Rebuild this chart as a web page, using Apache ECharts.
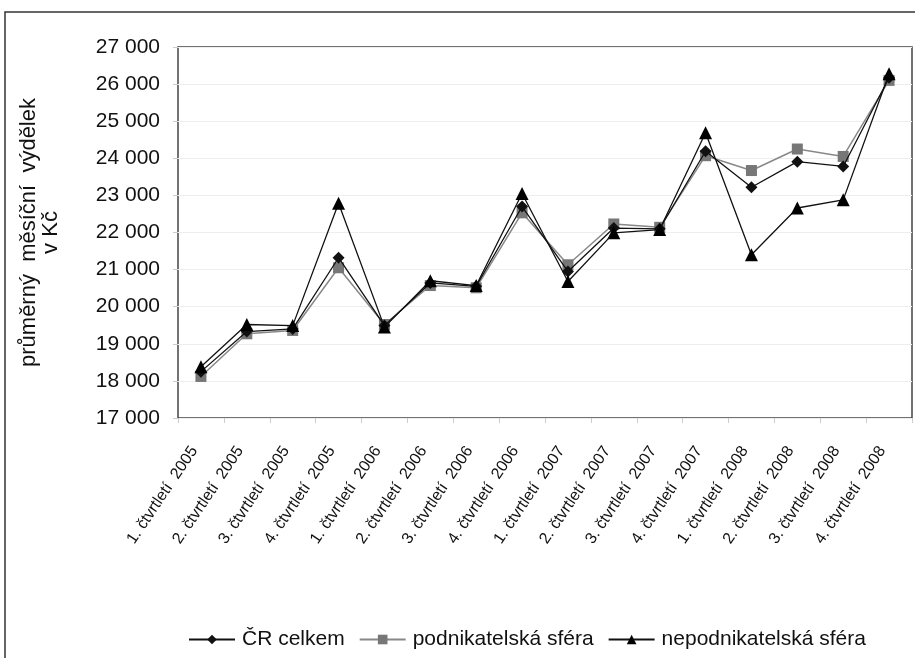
<!DOCTYPE html>
<html>
<head>
<meta charset="utf-8">
<script src="https://cdn.jsdelivr.net/npm/echarts@6/dist/echarts.min.js"></script>
<style>
html,body{margin:0;padding:0;background:#fff;}
#chart{width:915px;height:658px;}
</style>
</head>
<body>
<div id="chart"></div>
<script>
const categories = [
  '1. čtvrtletí  2005','2. čtvrtletí  2005','3. čtvrtletí  2005','4. čtvrtletí  2005',
  '1. čtvrtletí  2006','2. čtvrtletí  2006','3. čtvrtletí  2006','4. čtvrtletí  2006',
  '1. čtvrtletí  2007','2. čtvrtletí  2007','3. čtvrtletí  2007','4. čtvrtletí  2007',
  '1. čtvrtletí  2008','2. čtvrtletí  2008','3. čtvrtletí  2008','4. čtvrtletí  2008'
];
const crCelkem = [18250,19330,19400,21320,19490,20640,20550,22700,20950,22120,22100,24190,23220,23910,23780,26170];
const podnikatelska = [18120,19270,19360,21050,19520,20570,20510,22530,21130,22230,22140,24070,23670,24250,24050,26100];
const nepodnikatelska = [18380,19520,19490,22790,19450,20700,20570,23050,20680,21990,22080,24690,21400,22660,22880,26280];
const seriesNames = ['ČR celkem','podnikatelská sféra','nepodnikatelská sféra'];
const yTitle = 'průměrný  měsíční  výdělek\nv Kč';

const font = 'Liberation Sans, Arial, sans-serif';
const chart = echarts.init(document.getElementById('chart'), null, {renderer:'canvas'});
function fmt(v){ return String(v).replace(/\B(?=(\d{3})+(?!\d))/g,' '); }
chart.setOption({
  animation:false,
  backgroundColor:'#fff',
  graphic:[{type:'rect', shape:{x:5,y:12,width:1000,height:700}, style:{fill:'none', stroke:'#333', lineWidth:1.5}, z:-1}],
  grid:{left:178, top:47, right:3, bottom:240, show:true, borderColor:'#444', borderWidth:1.5},
  legend:{
    top:629, left:188, padding:0, itemWidth:46, itemHeight:12, itemGap:14,
    textStyle:{fontFamily:font, fontSize:21, color:'#111', padding:[0,0,0,2]},
    data:seriesNames
  },
  xAxis:{
    type:'category', data:categories, boundaryGap:true,
    axisLine:{show:false},
    axisTick:{show:true, length:5, lineStyle:{color:'#ccc'}},
    axisLabel:{rotate:56, interval:0, margin:20, padding:[0,12,0,0], fontFamily:font, fontSize:16, color:'#111'}
  },
  yAxis:{
    type:'value', min:17000, max:27000, interval:1000,
    axisLine:{show:false},
    axisTick:{show:true, length:5, lineStyle:{color:'#ccc'}},
    splitLine:{lineStyle:{color:'#eeeeee'}},
    axisLabel:{fontFamily:font, fontSize:21, color:'#111', margin:18, formatter:fmt},
    name:yTitle, nameLocation:'middle', nameRotate:90, nameGap:116,
    nameTextStyle:{fontFamily:font, fontSize:22, color:'#111', lineHeight:22, align:'center'}
  },
  series:[
    {name:seriesNames[0], type:'line', data:crCelkem, symbol:'diamond', symbolSize:12,
     lineStyle:{color:'#111', width:1.3}, itemStyle:{color:'#111'}, z:3},
    {name:seriesNames[1], type:'line', data:podnikatelska, symbol:'rect', symbolSize:11,
     lineStyle:{color:'#888', width:1.5}, itemStyle:{color:'#777'}, z:2},
    {name:seriesNames[2], type:'line', data:nepodnikatelska, symbol:'triangle', symbolSize:13,
     lineStyle:{color:'#111', width:1.3}, itemStyle:{color:'#000'}, z:4}
  ]
});
</script>
</body>
</html>
